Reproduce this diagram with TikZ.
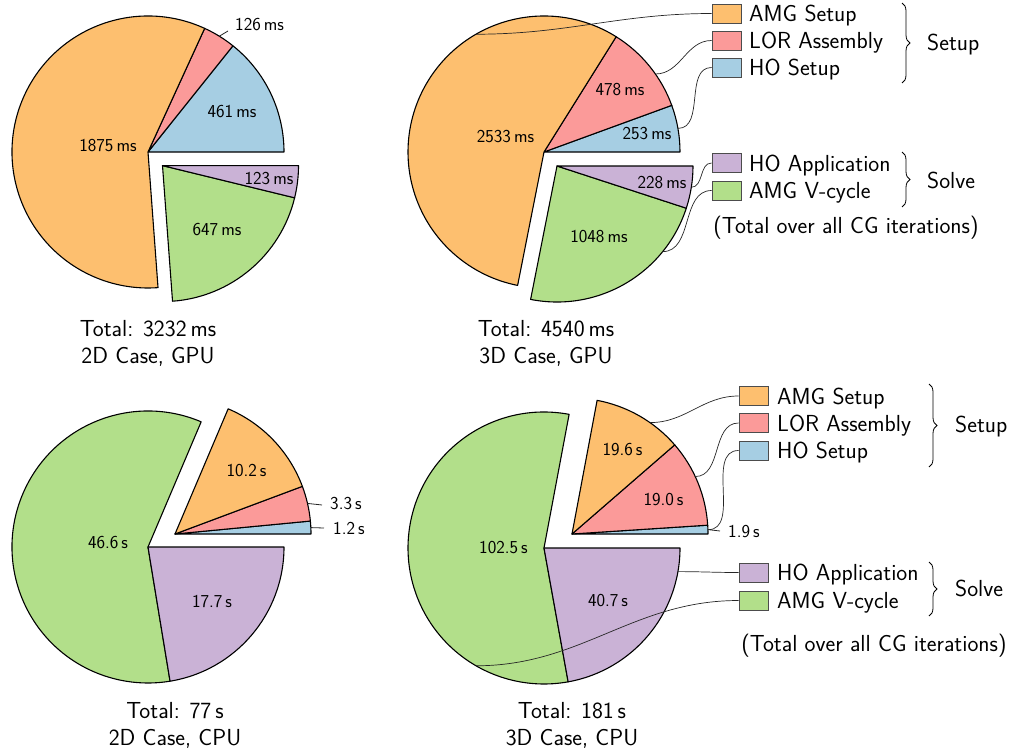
\documentclass[tikz,border=0pt]{standalone}
\usetikzlibrary{decorations.pathreplacing}
\definecolor{cAMG}{HTML}{FDBF6F}
\definecolor{cLOR}{HTML}{FB9A99}
\definecolor{cHOS}{HTML}{A6CEE3}
\definecolor{cHOA}{HTML}{CAB2D6}
\definecolor{cVC}{HTML}{B2DF8A}
\newcommand{\myslice}[4]{%
  \draw[slice, fill=#4] (#1) -- ++(#2:136pt) arc[start angle=#2, end angle=#3, radius=136pt] -- cycle;}
\begin{document}
\begin{tikzpicture}[x=1pt,y=1pt,
  slice/.style={draw=black, line width=1.1pt, line join=round},
  lbl/.style={font=\sffamily\fontsize{18.2}{21}\selectfont, inner sep=0pt},
  big/.style={font=\sffamily\fontsize{23.2}{27}\selectfont, inner sep=0pt},
  legbox/.style={draw=black!70, line width=0.9pt, minimum width=29pt, minimum height=19pt, inner sep=0pt},
  conn/.style={draw=black!85, line width=0.7pt},
  tick/.style={draw=black!85, line width=0.8pt},
  brc/.style={decorate, decoration={brace, amplitude=8pt}, line width=0.8pt},
]
\useasboundingbox (0,0) rectangle (1010,-755);

% ---------------- centres ----------------
\coordinate (p1s) at (148,-152);
\coordinate (p1v) at (162.5,-165.6);
\coordinate (p2s) at (544,-152);
\coordinate (p2v) at (557,-166);
\coordinate (p3s) at (175,-534);
\coordinate (p3v) at (148,-547);
\coordinate (p4s) at (572,-534);
\coordinate (p4v) at (544,-548);

% ---------------- pie 1: 2D GPU ----------------
\myslice{p1s}{0}{51.35}{cHOS}
\myslice{p1s}{51.35}{65.38}{cLOR}
\myslice{p1s}{65.38}{274.23}{cAMG}
\myslice{p1v}{274.23}{346.30}{cVC}
\myslice{p1v}{346.30}{360}{cHOA}
\node[lbl] (a1) at (108,-146) {1875\,ms};
\node[lbl] (a2) at (232,-112) {461\,ms};
\node[lbl, anchor=west] (a3) at (235,-25) {126\,ms};
\node[lbl] (a4) at (269,-179) {123\,ms};
\node[lbl] (a5) at (217,-230) {647\,ms};
\path (p1s) ++(58.37:136pt) coordinate (t1);
\coordinate (t1e) at (228,-31);
\draw[tick] (t1) -- (t1e);
\node[big, anchor=base] (tot1) at (148,-336) {Total: 3232\,ms};
\node[big, anchor=base] (cas1) at (148,-363) {2D Case, GPU};

% ---------------- pie 2: 3D GPU ----------------
\myslice{p2s}{0}{20.06}{cHOS}
\myslice{p2s}{20.06}{57.96}{cLOR}
\myslice{p2s}{57.96}{258.81}{cAMG}
\myslice{p2v}{258.81}{341.92}{cVC}
\myslice{p2v}{341.92}{360}{cHOA}
\node[lbl] (b1) at (505.5,-137) {2533\,ms};
\node[lbl] (b2) at (620,-90) {478\,ms};
\node[lbl] (b3) at (647,-134) {253\,ms};
\node[lbl] (b4) at (662,-183) {228\,ms};
\node[lbl] (b5) at (599,-237) {1048\,ms};
\node[big, anchor=base] (tot2) at (546,-336) {Total: 4540\,ms};
\node[big, anchor=base] (cas2) at (546,-363) {3D Case, GPU};

% legend top
\node[legbox, fill=cAMG] (L2a) at (726.5,-13.5) {};
\node[legbox, fill=cLOR] (L2b) at (726.5,-40.5) {};
\node[legbox, fill=cHOS] (L2c) at (726.5,-67.5) {};
\node[legbox, fill=cHOA] (L2d) at (726.5,-163) {};
\node[legbox, fill=cVC]  (L2e) at (726.5,-190.5) {};
\node[big, anchor=base west] (T2a) at (749,-21.5) {AMG Setup};
\node[big, anchor=base west] (T2b) at (749,-48.5) {LOR Assembly};
\node[big, anchor=base west] (T2c) at (749,-75.5) {HO Setup};
\node[big, anchor=base west] (T2d) at (749,-171) {HO Application};
\node[big, anchor=base west] (T2e) at (749,-198.5) {AMG V-cycle};
\draw[brc] (902,-3) -- (902,-83);
\draw[brc] (902,-152) -- (902,-207);
\node[big, anchor=base west] (S2a) at (927,-50) {Setup};
\node[big, anchor=base west] (S2b) at (927,-188) {Solve};
\node[big, anchor=base] (N2) at (846,-233) {(Total over all CG iterations)};
\path (p2s) ++(120:136pt) coordinate (k2a);
\path (p2s) ++(35:136pt) coordinate (k2b);
\path (p2s) ++(10:136pt) coordinate (k2c);
\path (p2v) ++(-9:136pt) coordinate (k2d);
\path (p2v) ++(-39:136pt) coordinate (k2e);
\draw[conn] (k2a) to[out=0,in=180] (L2a.west);
\draw[conn] (k2b) to[out=0,in=180] (L2b.west);
\draw[conn] (k2c) to[out=0,in=180] (L2c.west);
\draw[conn] (k2d) to[out=0,in=180] (L2d.west);
\draw[conn] (k2e) to[out=0,in=180] (L2e.west);

% ---------------- pie 3: 2D CPU ----------------
\myslice{p3s}{0}{5.47}{cHOS}
\myslice{p3s}{5.47}{20.51}{cLOR}
\myslice{p3s}{20.51}{66.99}{cAMG}
\myslice{p3v}{66.99}{279.34}{cVC}
\myslice{p3v}{279.34}{360}{cHOA}
\node[lbl] (c1) at (108,-543) {46.6\,s};
\node[lbl] (c2) at (246.5,-471) {10.2\,s};
\node[lbl] (c3) at (212,-601) {17.7\,s};
\node[lbl, anchor=west] (c4) at (330,-504) {3.3\,s};
\node[lbl, anchor=west] (c5) at (333,-528) {1.2\,s};
\path (p3s) ++(13:136pt) coordinate (t3a);
\path (p3s) ++(2.7:136pt) coordinate (t3b);
\coordinate (t3ae) at (322,-505);
\coordinate (t3be) at (324,-528);
\draw[tick] (t3a) -- (t3ae);
\draw[tick] (t3b) -- (t3be);
\node[big, anchor=base] (tot3) at (175,-718) {Total: 77\,s};
\node[big, anchor=base] (cas3) at (175,-745) {2D Case, CPU};

% ---------------- pie 4: 3D CPU ----------------
\myslice{p4s}{0}{3.72}{cHOS}
\myslice{p4s}{3.72}{40.95}{cLOR}
\myslice{p4s}{40.95}{79.36}{cAMG}
\myslice{p4v}{79.36}{280.23}{cVC}
\myslice{p4v}{280.23}{360}{cHOA}
\node[lbl] (d1) at (503.5,-548) {102.5\,s};
\node[lbl] (d2) at (622.5,-450) {19.6\,s};
\node[lbl] (d3) at (663.5,-500) {19.0\,s};
\node[lbl] (d4) at (608,-601) {40.7\,s};
\node[lbl, anchor=west] (d5) at (728,-532) {1.9\,s};
\path (p4s) ++(1.86:136pt) coordinate (t4);
\coordinate (t4e) at (720,-531);
\draw[tick] (t4) -- (t4e);
\node[big, anchor=base] (tot4) at (572,-718) {Total: 181\,s};
\node[big, anchor=base] (cas4) at (572,-745) {3D Case, CPU};

% legend bottom
\node[legbox, fill=cAMG] (L4a) at (753.5,-396) {};
\node[legbox, fill=cLOR] (L4b) at (753.5,-423) {};
\node[legbox, fill=cHOS] (L4c) at (753.5,-450.5) {};
\node[legbox, fill=cHOA] (L4d) at (753.5,-572.5) {};
\node[legbox, fill=cVC]  (L4e) at (753.5,-600.5) {};
\node[big, anchor=base west] (T4a) at (777,-404) {AMG Setup};
\node[big, anchor=base west] (T4b) at (777,-431) {LOR Assembly};
\node[big, anchor=base west] (T4c) at (777,-458.5) {HO Setup};
\node[big, anchor=base west] (T4d) at (777,-580.5) {HO Application};
\node[big, anchor=base west] (T4e) at (777,-608.5) {AMG V-cycle};
\draw[brc] (929,-384) -- (929,-467);
\draw[brc] (929,-562) -- (929,-616);
\node[big, anchor=base west] (S4a) at (955,-432) {Setup};
\node[big, anchor=base west] (S4b) at (955,-596) {Solve};
\node[big, anchor=base] (N4) at (874,-651) {(Total over all CG iterations)};
\path (p4s) ++(55:136pt) coordinate (k4a);
\path (p4s) ++(25:136pt) coordinate (k4b);
\path (p4s) ++(1.8:136pt) coordinate (k4c);
\path (p4v) ++(-10:136pt) coordinate (k4d);
\path (p4v) ++(240:136pt) coordinate (k4e);
\draw[conn] (k4a) to[out=0,in=180] (L4a.west);
\draw[conn] (k4b) to[out=0,in=180] (L4b.west);
\draw[conn] (k4c) to[out=0,in=180] (L4c.west);
\draw[conn] (k4d) to[out=0,in=180] (L4d.west);
\draw[conn] (k4e) to[out=0,in=180] (L4e.west);
\end{tikzpicture}
\end{document}
